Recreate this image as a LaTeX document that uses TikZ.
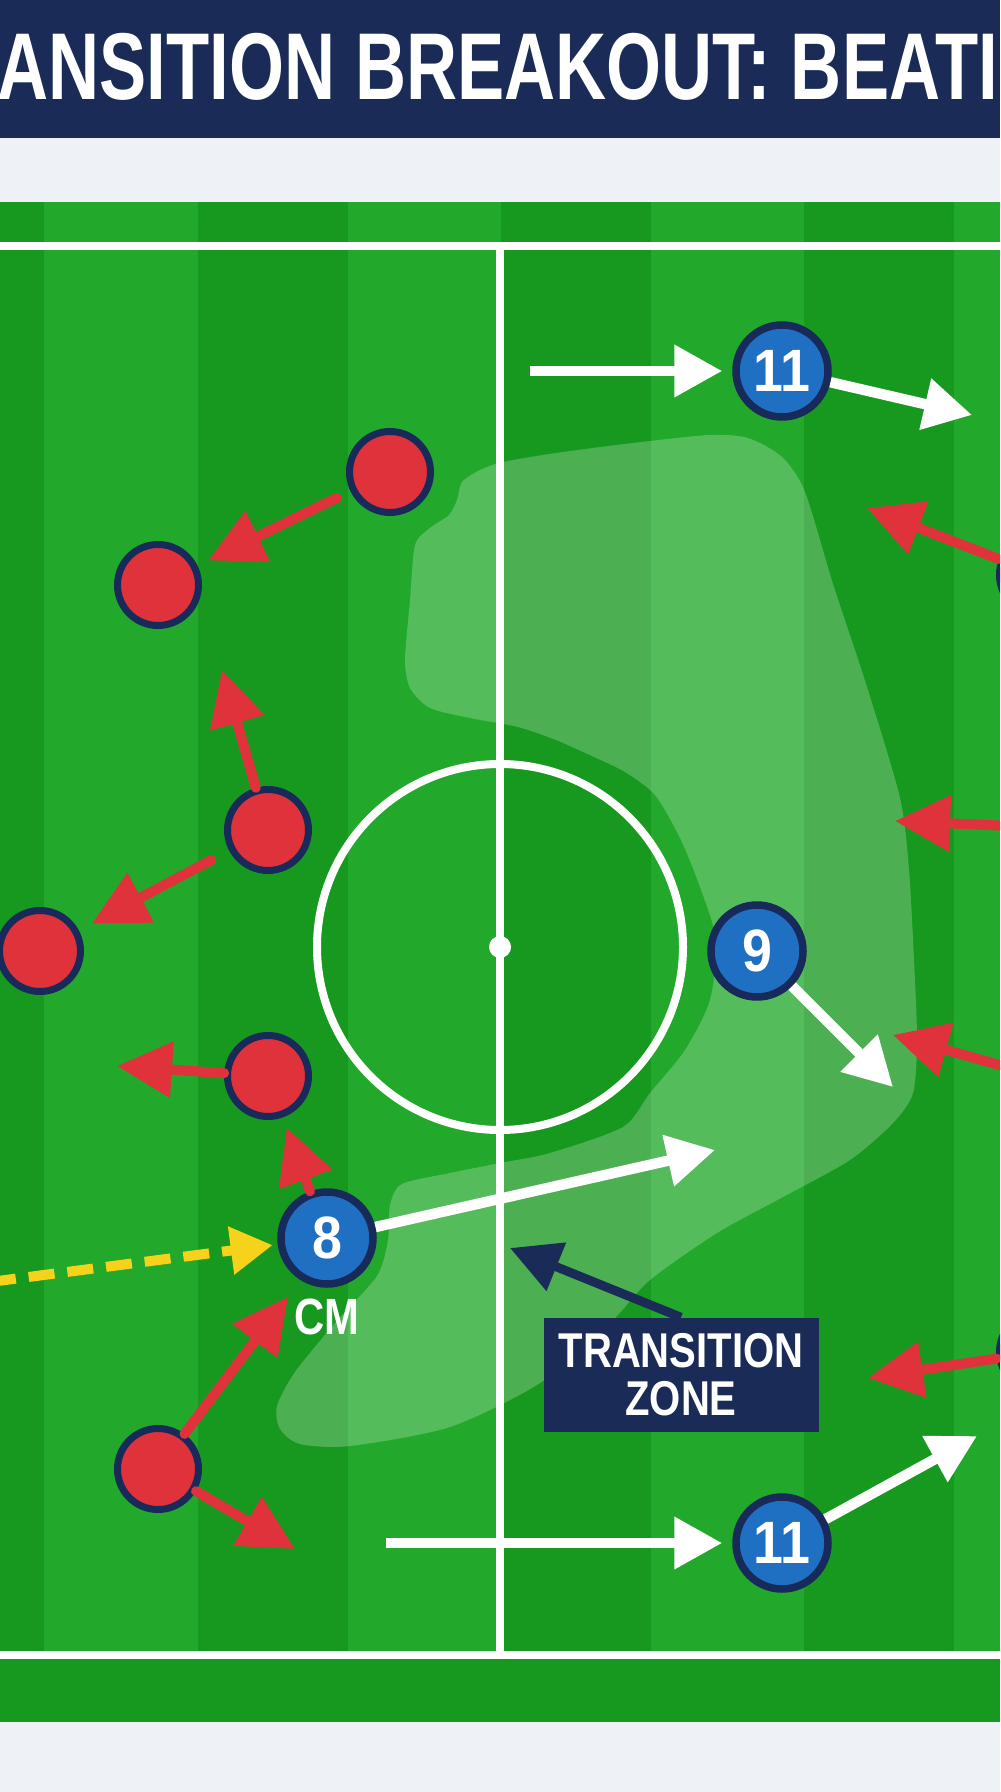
\documentclass[tikz,border=0pt]{standalone}
\usepackage{fontspec}
\setmainfont{Liberation Sans}
\newfontfamily\headfont[FakeStretch=0.745]{Liberation Sans Bold}
\newfontfamily\labelfont[FakeStretch=0.82]{Liberation Sans Bold}
\newfontfamily\numfont[FakeStretch=0.9]{Liberation Sans Bold}
\usetikzlibrary{arrows.meta}

\definecolor{navy}{HTML}{1B2B57}
\definecolor{ringnavy}{HTML}{182A5A}
\definecolor{paper}{HTML}{EEF2F6}
\definecolor{pitchlight}{HTML}{22A82B}
\definecolor{pitchdark}{HTML}{17991F}
\definecolor{redteam}{HTML}{E0323A}
\definecolor{blueteam}{HTML}{1F6FC2}
\definecolor{passyellow}{HTML}{F6D21A}

\tikzset{
  redp/.style={circle, fill=redteam, draw=ringnavy, line width=0.7mm, minimum size=8.1mm, inner sep=0},
  bluep/.style={circle, fill=blueteam, draw=ringnavy, line width=0.75mm, minimum size=9.2mm, inner sep=0,
    text=white, font=\numfont\fontsize{17}{17}\selectfont},
  press/.style={draw=redteam, line width=1mm, line cap=round, -{Triangle[length=5.5mm,width=5.4mm]}},
  run/.style={draw=white, line width=1.05mm, -{Triangle[length=4.8mm,width=5mm]}},
  pass/.style={draw=passyellow, line width=1mm, dash pattern=on 2.6mm off 1.3mm, -{Triangle[length=4.2mm,width=4.6mm]}},
  pointer/.style={draw=navy, line width=0.9mm, -{Triangle[length=5mm,width=5mm]}},
  pitchline/.style={draw=white, line width=0.8mm},
  zonebox/.style={fill=navy, text=white, align=center, inner sep=0, minimum width=27.5mm, minimum height=11.4mm,
    font=\labelfont\fontsize{13.9}{13.6}\selectfont},
}

\begin{document}
\begin{tikzpicture}[x=0.1mm, y=-0.1mm]
  \useasboundingbox (0,0) rectangle (1000,1792);
  \begin{scope}
    \clip (0,0) rectangle (1000,1792);
    % header and paper
    \fill[paper] (0,0) rectangle (1000,1792);
    \fill[navy] (0,0) rectangle (1000,138);
    \node[anchor=base west, inner sep=0, text=white, font=\headfont\fontsize{27}{27}\selectfont] (title) at (-3,100) {ANSITION BREAKOUT: BEATI};

    % grass
    \fill[pitchlight] (0,202) rectangle (1000,1722);
    \foreach \x in {-106,198,501,804}
      \fill[pitchdark] (\x,202) rectangle ++(150,1520);
    \fill[pitchdark] (0,1657) rectangle (1000,1722);

    % transition zone
    \fill[white, fill opacity=0.23] plot[smooth cycle, tension=0.45] coordinates {
      (503,462) (556,453) (633,443) (709,435) (748,438) (782,457) (805,492) (833,584) (867,687)
      (900,798) (909,870) (914,960) (917,1040) (913,1093) (893,1123) (850,1160) (783,1197)
      (717,1233) (650,1280) (610,1323) (540,1383) (450,1427) (350,1446) (300,1444) (280,1429)
      (277,1406) (295,1372) (335,1323) (377,1276) (388,1240) (390,1205) (402,1184) (450,1173)
      (500,1163) (550,1153) (623,1127) (650,1093) (685,1050) (710,1000) (716,940) (700,887)
      (680,838) (655,795) (625,772) (594,757) (556,740) (518,727) (470,718) (430,708)
      (410,688) (405,660) (410,600) (415,545) (430,528) (449,515) (457,500) (462,482) (480,470)};

    % markings
    \draw[pitchline] (0,246) -- (1000,246);
    \draw[pitchline] (0,1655) -- (1000,1655);
    \draw[pitchline] (500,246) -- (500,1655);
    \draw[pitchline] (500,947) circle[radius=183];
    \fill[white] (500,947) circle[radius=11];

    % players
    \node[redp] (r1) at (390,472) {};
    \node[redp] (r2) at (158,585) {};
    \node[redp] (r3) at (268,830) {};
    \node[redp] (r4) at (40,951) {};
    \node[redp] (r5) at (268,1076) {};
    \node[redp] (r6) at (158,1469) {};
    \node[redp] (r7) at (1040,575) {};
    \node[redp] (r8) at (1040,1352) {};
    \node[bluep] (w11) at (782,371) {11};
    \node[bluep] (st9) at (757,951) {9};
    \node[bluep] (cm8) at (327,1238) {8};
    \node[bluep] (w11b) at (782,1543) {11};
    \node[text=white, inner sep=0, font=\labelfont\fontsize{14.5}{14.5}\selectfont] (cmlabel) at (327,1317) {CM};
    \node[zonebox] (zone) at (681,1375) {TRANSITION\\ZONE};

    % free arrow ends
    \coordinate (r3up) at (222,670);
    \coordinate (r5left) at (117,1066);
    \coordinate (r6up) at (288,1297);
    \coordinate (r6down) at (295,1549);
    \coordinate (r7to) at (867,508);
    \coordinate (r8to) at (868,1378);
    \coordinate (edgeA) at (1010,826);
    \coordinate (edgeAto) at (895,821);
    \coordinate (edgeB) at (1010,1068);
    \coordinate (edgeBto) at (893,1035);
    \coordinate (runtop) at (530,371);
    \coordinate (w11to) at (972,415);
    \coordinate (runbot) at (386,1543);
    \coordinate (w11bto) at (977,1436);
    \coordinate (st9to) at (893,1087);
    \coordinate (cm8to) at (715,1150);
    \coordinate (passfrom) at (-10,1282);
    \coordinate (zonetip) at (510,1248);

    % pressing runs
    \draw[press, shorten <=1.5mm, shorten >=1.2mm] (r1) -- (r2);
    \draw[press, shorten <=2mm, shorten >=1.5mm] (r3) -- (r4);
    \draw[press] (r3) -- (r3up);
    \draw[press] (r5) -- (r5left);
    \draw[press, shorten >=1.1mm] (cm8) -- (r5);
    \draw[press] (r6) -- (r6up);
    \draw[press] (r6) -- (r6down);
    \draw[press] (r7) -- (r7to);
    \draw[press] (r8) -- (r8to);
    \draw[press] (edgeA) -- (edgeAto);
    \draw[press] (edgeB) -- (edgeBto);

    % breakout runs
    \draw[run, shorten >=1mm] (runtop) -- (w11);
    \draw[run] (w11) -- (w11to);
    \draw[run, shorten >=1mm] (runbot) -- (w11b);
    \draw[run] (w11b) -- (w11bto);
    \draw[run] (st9) -- (st9to);
    \draw[run] (cm8) -- (cm8to);
    \draw[pass, shorten >=0.5mm] (passfrom) -- (cm8);
    \draw[pointer] (zone.north) -- (zonetip);
  \end{scope}
\end{tikzpicture}
\end{document}
